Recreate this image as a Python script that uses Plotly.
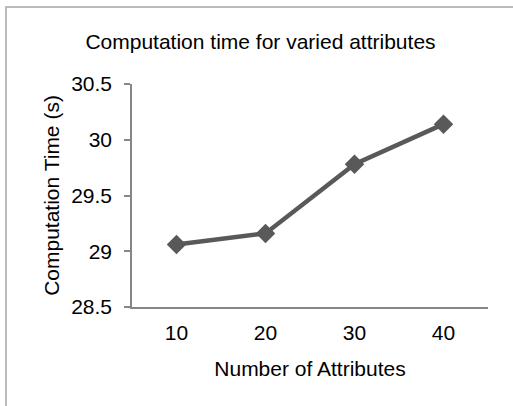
import plotly.graph_objects as go

categories = ["10", "20", "30", "40"]
times = [29.06, 29.16, 29.78, 30.14]
y_ticks = [28.5, 29, 29.5, 30, 30.5]
y_tick_labels = ["28.5", "29", "29.5", "30", "30.5"]

L, R, T, B = 132, 25, 84, 99
W, H = 513, 406
pw = W - L - R
ph = H - T - B

FS = 21

fig = go.Figure()
fig.add_trace(go.Scatter(
    x=categories, y=times, mode="lines+markers",
    line=dict(color="#595959", width=4.5),
    marker=dict(symbol="diamond", size=15, color="#595959"),
    showlegend=False, cliponaxis=False,
))

font = dict(family="Liberation Sans, Arial, sans-serif", color="#000000")

fig.update_layout(
    width=W, height=H,
    margin=dict(l=L, r=R, t=T, b=B),
    paper_bgcolor="white", plot_bgcolor="white",
    font=dict(family="Liberation Sans, Arial, sans-serif", size=FS, color="black"),
    title=dict(text="Computation time for varied attributes", x=(83 + 438) / 2 / W, xanchor="center",
               y=1 - 42 / H, yanchor="middle", font=dict(size=FS, **font)),
    xaxis=dict(
        type="category", range=[-0.5, 3.5],
        showline=True, linecolor="#868686", linewidth=1.5,
        ticks="", showgrid=False, zeroline=False,
        tickfont=dict(size=FS, **font), ticklabelstandoff=6,
        title=dict(text="Number of Attributes", font=dict(size=FS, **font), standoff=18),
    ),
    yaxis=dict(
        range=[28.5, 30.5], tickvals=y_ticks, ticktext=y_tick_labels,
        showline=True, linecolor="#868686", linewidth=1.5,
        ticks="outside", ticklen=6, tickcolor="#868686", tickwidth=1.5,
        showgrid=False, zeroline=False,
        tickfont=dict(size=FS, **font), ticklabelstandoff=8,
        title=dict(text="Computation Time (s)", font=dict(size=FS, **font), standoff=6),
    ),
    shapes=[dict(
        type="rect", xref="paper", yref="paper",
        x0=(6 - L) / pw, x1=(W + 20 - L) / pw,
        y0=(H - B - (H + 20)) / ph, y1=(H - B - 7) / ph,
        line=dict(color="#a6a6a6", width=1.5), fillcolor="rgba(0,0,0,0)", layer="below",
    )],
)

fig.write_html("out.html")
